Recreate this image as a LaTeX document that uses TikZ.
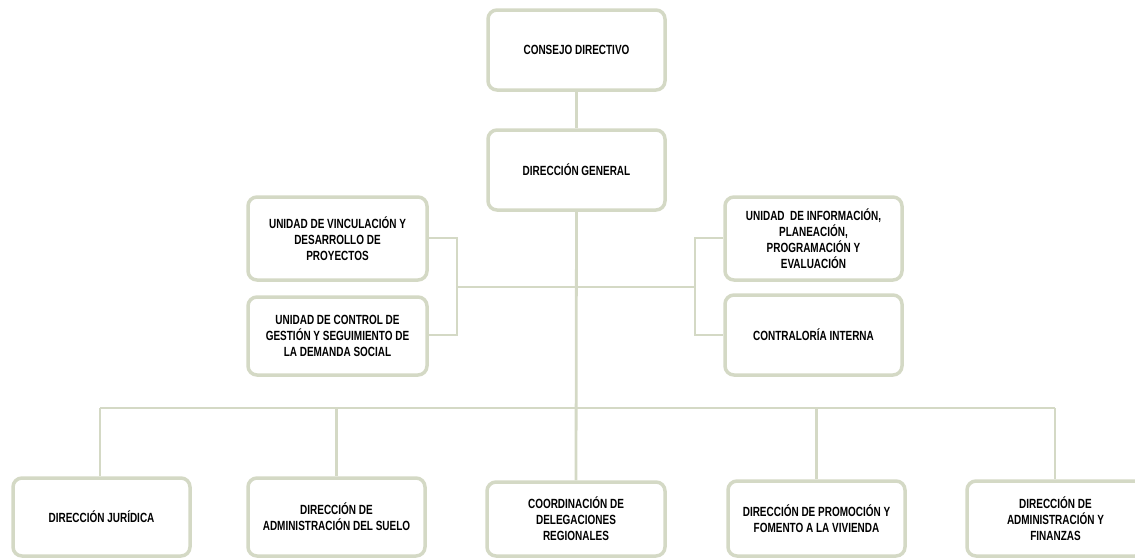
\documentclass[tikz,border=0pt]{standalone}
\usepackage{fontspec}
\setmainfont{Liberation Sans}[FakeStretch=0.75]
\begin{document}
\begin{tikzpicture}[x=1pt,y=-1pt,
  box/.style={draw=boxc, line width=3.5pt, rounded corners=9pt, fill=white,
    minimum width=#1, align=center, font=\bfseries\fontsize{13.3}{16}\selectfont, inner sep=2pt},
  box/.default=177pt,
  link/.style={draw=linec, line width=2.8pt}]
\definecolor{boxc}{RGB}{212,217,197}
\definecolor{linec}{RGB}{212,217,197}
\useasboundingbox (0,0) rectangle (1135,558);
\clip (0,0) rectangle (1135,558);
% nodes
\node[box, minimum height=80pt] (cd) at (576.5,50) {CONSEJO DIRECTIVO};
\node[box, minimum height=80pt] (dg) at (576.5,170) {DIRECCIÓN GENERAL};
\node[box=179pt, minimum height=83pt] (uv) at (337.5,238.5) {UNIDAD DE VINCULACIÓN Y\\DESARROLLO DE\\PROYECTOS};
\node[box=179pt, minimum height=78pt] (uc) at (337.5,336) {UNIDAD DE CONTROL DE\\GESTIÓN Y SEGUIMIENTO DE\\LA DEMANDA SOCIAL};
\node[box, minimum height=83pt] (ui) at (813.5,238.5) {UNIDAD\ \ DE INFORMACIÓN,\\PLANEACIÓN,\\PROGRAMACIÓN Y\\EVALUACIÓN};
\node[box, minimum height=80pt] (ci) at (813.5,335) {CONTRALORÍA INTERNA};
\node[box, minimum height=78pt] (dj) at (101.5,517) {DIRECCIÓN JURÍDICA};
\node[box, minimum height=78pt] (ds) at (336.5,517) {DIRECCIÓN DE\\ADMINISTRACIÓN DEL SUELO};
\node[box=178pt, minimum height=74pt] (cr) at (576,519) {COORDINACIÓN DE\\DELEGACIONES\\REGIONALES};
\node[box, minimum height=75pt] (dp) at (816.5,518.5) {DIRECCIÓN DE PROMOCIÓN Y\\FOMENTO A LA VIVIENDA};
\node[box=177pt, minimum height=75pt] (da) at (1055.5,518.5) {DIRECCIÓN DE\\ADMINISTRACIÓN Y\\FINANZAS};
% junction coordinates
\coordinate (lj1) at (457,238);
\coordinate (lj2) at (457,335);
\coordinate (lm) at (457,287);
\coordinate (rj1) at (695,238);
\coordinate (rj2) at (695,335);
\coordinate (rm) at (695,287);
\coordinate (bl) at (100,408);
\coordinate (br) at (1055,408);
% connectors
\draw[link] (cd.south) -- (dg.north);
\draw[link] (dg.south) -- (cr.north);
\draw[link] (uv.east |- lj1) -- (lj1) -- (lj2) -- (uc.east |- lj2);
\draw[link] (lm) -- (rm);
\draw[link] (ui.west |- rj1) -- (rj1) -- (rj2) -- (ci.west |- rj2);
\draw[link] (bl) -- (br);
\draw[link] (bl) -- (bl |- dj.north);
\draw[link] (ds.north |- bl) -- (ds.north);
\draw[link] (dp.north |- bl) -- (dp.north);
\draw[link] (br) -- (br |- da.north);
\end{tikzpicture}
\end{document}
